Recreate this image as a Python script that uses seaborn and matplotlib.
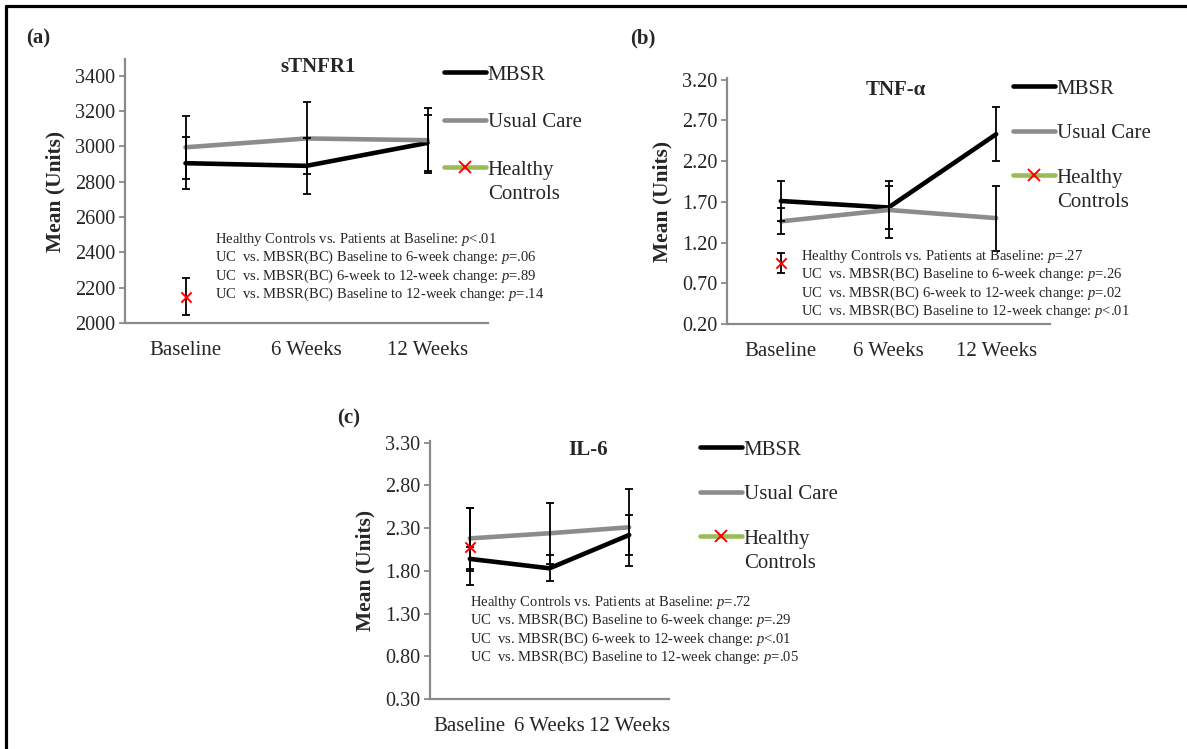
import matplotlib
matplotlib.use("Agg")
import matplotlib.pyplot as plt
import seaborn as sns
from matplotlib.lines import Line2D

sns.set_style("white")
plt.rcParams["font.family"] = ["Liberation Serif", "DejaVu Serif"]
plt.rcParams["mathtext.fontset"] = "custom"
plt.rcParams["mathtext.it"] = "Liberation Serif:italic"
plt.rcParams["mathtext.rm"] = "Liberation Serif"

W, H = 1187, 749

time_points = ["Baseline", "6 Weeks", "12 Weeks"]
series_names = ["MBSR", "Usual Care", "Healthy"]

# (a) sTNFR1
stnfr1_mbsr = [2905, 2890, 3020]
stnfr1_mbsr_err = [148, 157, 157]
stnfr1_uc = [2995, 3045, 3035]
stnfr1_uc_err = [180, 204, 184]
stnfr1_hc = [2150]
stnfr1_hc_err = [107]
stnfr1_p = ["<.01", "=.06", "=.89", "=.14"]

# (b) TNF-alpha
tnf_mbsr = [1.71, 1.63, 2.53]
tnf_mbsr_err = [0.25, 0.265, 0.33]
tnf_uc = [1.46, 1.60, 1.50]
tnf_uc_err = [0.16, 0.35, 0.40]
tnf_hc = [0.95]
tnf_hc_err = [0.12]
tnf_p = ["=.27", "=.26", "=.02", "<.01"]

# (c) IL-6
il6_mbsr = [1.94, 1.83, 2.22]
il6_mbsr_err = [0.14, 0.15, 0.23]
il6_uc = [2.18, 2.24, 2.31]
il6_uc_err = [0.36, 0.36, 0.45]
il6_hc = [2.08]
il6_hc_err = [0.45]
il6_p = ["=.72", "=.29", "<.01", "=.05"]

comparisons = [
    "Healthy Controls vs. Patients at Baseline: ",
    "UC  vs. MBSR(BC) Baseline to 6-week change: ",
    "UC  vs. MBSR(BC) 6-week to 12-week change: ",
    "UC  vs. MBSR(BC) Baseline to 12-week change: ",
]

GRAY_AX = "#8a8a8a"
GRAY_LINE = "#8c8c8c"
GREEN = "#9bbb59"


def fx(px):
    return px / W


def fy(py):
    return 1 - py / H


fig = plt.figure(figsize=(W / 100, H / 100), dpi=100)


def panel(box, mbsr, mbsr_err, uc, uc_err, hc, hc_err, ylim, yticks, yfmt,
          title, title_px, label, label_px, pvals, text_px, leg_px, leg_spacing):
    left, top, right, bottom = box
    ax = fig.add_axes([fx(left), fy(bottom), fx(right) - fx(left), fy(top) - fy(bottom)])
    x = list(range(len(time_points)))

    sns.lineplot(x=x, y=mbsr, color="black", lw=3.3, ax=ax)
    sns.lineplot(x=x, y=uc, color=GRAY_LINE, lw=3.3, ax=ax)
    ax.errorbar(x, mbsr, yerr=mbsr_err, fmt="none", ecolor="black",
                elinewidth=1.3, capsize=3.2, capthick=1.3, zorder=3)
    ax.errorbar(x, uc, yerr=uc_err, fmt="none", ecolor="black",
                elinewidth=1.3, capsize=3.2, capthick=1.3, zorder=3)
    ax.errorbar(x[:1], hc, yerr=hc_err, fmt="none", ecolor="black",
                elinewidth=1.3, capsize=3.2, capthick=1.3, zorder=3)
    sns.scatterplot(x=x[:1], y=hc, marker="x", color="red", s=55,
                    linewidth=1.4, ax=ax, zorder=4)

    ax.set_xlim(-0.5, 2.5)
    ax.set_ylim(*ylim)
    ax.set_yticks(yticks)
    ax.set_yticklabels([yfmt.format(v) for v in yticks], fontsize=14.5)
    ax.set_xticks(x)
    ax.set_xticklabels(time_points, fontsize=15)
    ax.set_xticks([-0.5, 0.5, 1.5, 2.5], minor=True)
    ax.tick_params(axis="x", which="major", length=0, pad=13)
    ax.tick_params(axis="x", which="minor", length=5, width=1.3,
                   color=GRAY_AX, direction="out")
    ax.tick_params(axis="y", length=4, width=1.3, color=GRAY_AX,
                   direction="out", left=True, pad=3)
    for s in ["top", "right"]:
        ax.spines[s].set_visible(False)
    for s in ["left", "bottom"]:
        ax.spines[s].set_color(GRAY_AX)
        ax.spines[s].set_linewidth(1.6)
    ax.set_ylabel("Mean (Units)", fontsize=15.5, fontweight="bold", labelpad=7)
    ax.set_xlabel("")
    ax.grid(False)

    fig.text(fx(title_px[0]), fy(title_px[1]), title, fontsize=15,
             fontweight="bold", ha="center", va="center")
    fig.text(fx(label_px[0]), fy(label_px[1]), label, fontsize=15,
             fontweight="bold", ha="center", va="center")

    lines = [c + "$p$" + p for c, p in zip(comparisons, pvals)]
    fig.text(fx(text_px[0]), fy(text_px[1]), "\n".join(lines), fontsize=10.5,
             color="#262626", ha="left", va="top", linespacing=1.08)

    handles = [
        Line2D([], [], color="black", lw=3.3),
        Line2D([], [], color=GRAY_LINE, lw=3.3),
        Line2D([], [], color=GREEN, lw=3.3, marker="x", mec="red",
               mew=1.4, ms=8),
    ]
    leg = ax.legend(handles, series_names, loc="upper left",
                    bbox_to_anchor=(fx(leg_px[0]), fy(leg_px[1])),
                    bbox_transform=fig.transFigure, frameon=False,
                    fontsize=15, handlelength=2.0, handletextpad=0.1,
                    borderpad=0, borderaxespad=0, labelspacing=leg_spacing)
    return leg


legs = []
legs.append(panel((125, 59, 488, 323), stnfr1_mbsr, stnfr1_mbsr_err,
                  stnfr1_uc, stnfr1_uc_err, stnfr1_hc, stnfr1_hc_err,
                  (2000, 3495), [2000, 2200, 2400, 2600, 2800, 3000, 3200, 3400],
                  "{:.0f}", "sTNFR1", (318, 67), "(a)", (38, 38),
                  stnfr1_p, (215, 231), (444, 65), 1.34))
legs.append(panel((727, 78, 1050, 324), tnf_mbsr, tnf_mbsr_err,
                  tnf_uc, tnf_uc_err, tnf_hc, tnf_hc_err,
                  (0.2, 3.22), [0.2, 0.7, 1.2, 1.7, 2.2, 2.7, 3.2],
                  "{:.2f}", "TNF-\u03b1", (896, 90), "(b)", (643, 38),
                  tnf_p, (801, 248), (1013, 79), 1.2))
legs.append(panel((430, 441, 669, 699), il6_mbsr, il6_mbsr_err,
                  il6_uc, il6_uc_err, il6_hc, il6_hc_err,
                  (0.3, 3.32), [0.3, 0.8, 1.3, 1.8, 2.3, 2.8, 3.3],
                  "{:.2f}", "IL-6", (588, 450), "(c)", (349, 418),
                  il6_p, (470, 594), (700, 440), 1.2))

# second line of the "Healthy Controls" legend label
fig.canvas.draw()
r = fig.canvas.get_renderer()
for leg in legs:
    t = leg.get_texts()[2]
    bb = t.get_window_extent(r)
    fig.text(bb.x0 / W, (bb.y0 - 24) / H, "Controls", fontsize=15,
             ha="left", va="bottom")

# outer frame
fig.add_artist(Line2D([fx(6), 1], [fy(6), fy(6)], color="black", lw=2.3))
fig.add_artist(Line2D([fx(6), fx(6)], [fy(6), 0], color="black", lw=2.3))

fig.savefig("out.png", dpi=100)
